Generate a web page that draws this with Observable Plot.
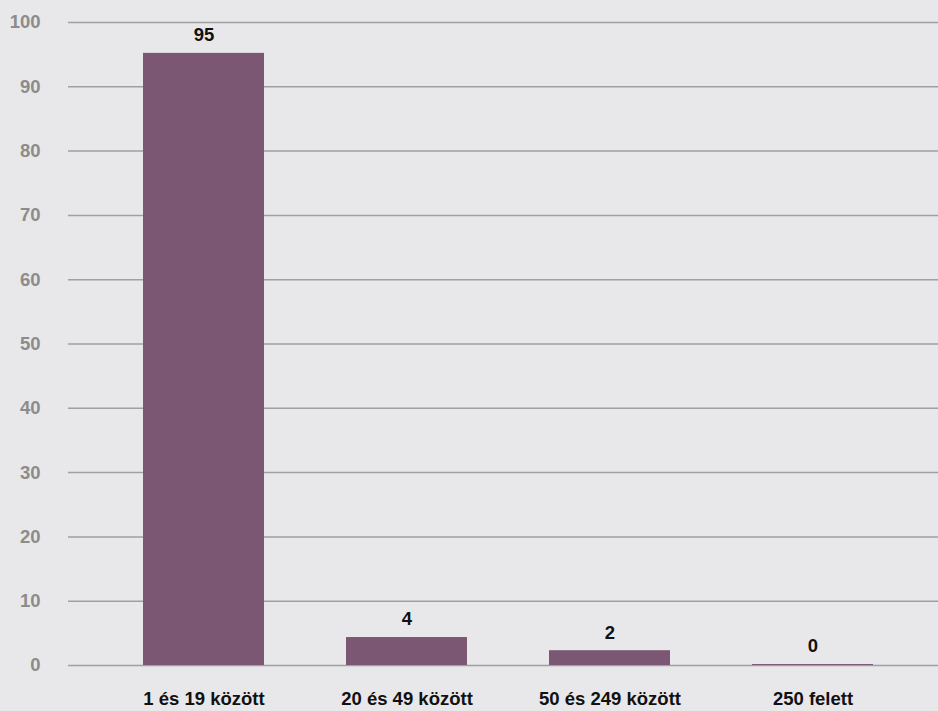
<!DOCTYPE html>
<html>
<head>
<meta charset="utf-8">
<script src="https://cdn.jsdelivr.net/npm/d3@7"></script>
<script src="https://cdn.jsdelivr.net/npm/@observablehq/plot@0.6"></script>
<style>
  html, body { margin: 0; padding: 0; background: #e8e8ea; }
  #chart svg { display: block; }
</style>
</head>
<body>
<div id="chart"></div>
<script>
const categories = ["1 és 19 között", "20 és 49 között", "50 és 249 között", "250 felett"];
const values = [95.2, 4.35, 2.3, 0.15];
const labels = ["95", "4", "2", "0"];
const yTicks = [0, 10, 20, 30, 40, 50, 60, 70, 80, 90, 100];

const data = categories.map((c, i) => ({category: c, value: values[i], label: labels[i]}));

const chart = Plot.plot({
  width: 938,
  height: 711,
  marginTop: 22,
  marginBottom: 46,
  marginLeft: 68,
  marginRight: 0,
  style: {background: "#e8e8ea", fontFamily: "'Liberation Sans', Arial, sans-serif"},
  x: {domain: categories, paddingInner: 0.405, paddingOuter: 0.34, align: 0.535, label: null},
  y: {domain: [0, 100], label: null},
  marks: [
    Plot.ruleY(yTicks, {stroke: "#a0a0a2", strokeWidth: 1.5}),
    Plot.axisY({ticks: yTicks, tickSize: 0, tickPadding: 28, fontSize: 18.5, fontWeight: "bold", fill: "#8c8c8c", label: null}),
    Plot.axisX({tickSize: 0, tickPadding: 26, fontSize: 18.5, fontWeight: "bold", fill: "#111", label: null}),
    Plot.barY(data, {x: "category", y: "value", fill: "#7b5773"}),
    Plot.text(data, {x: "category", y: "value", text: "label", dy: -18, fontSize: 18.5, fontWeight: "bold", fill: "#111"})
  ]
});
document.getElementById("chart").append(chart);
</script>
</body>
</html>
